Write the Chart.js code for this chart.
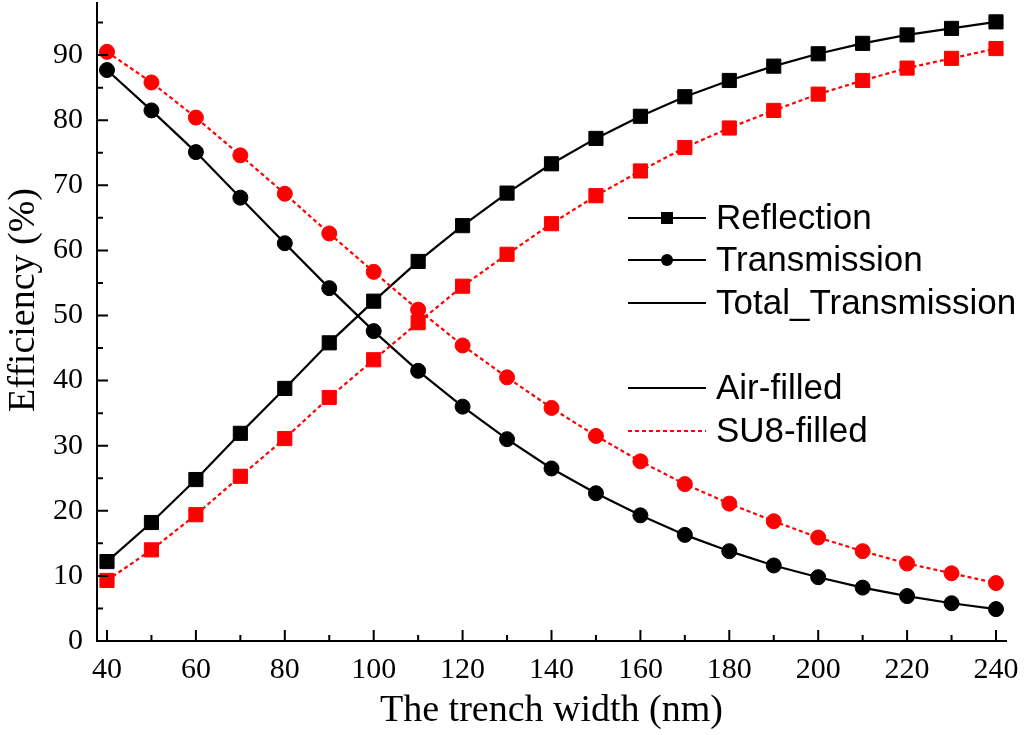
<!DOCTYPE html>
<html>
<head>
<meta charset="utf-8">
<script src="https://cdn.jsdelivr.net/npm/chart.js@4/dist/chart.umd.min.js"></script>
<style>
  html, body { margin: 0; padding: 0; background: #fff; }
  #wrap { width: 1024px; height: 735px; position: relative; }
</style>
</head>
<body>
<div id="wrap"><canvas id="chart"></canvas></div>
<script>
// trench width (nm)
const widths = [40, 50, 60, 70, 80, 90, 100, 110, 120, 130, 140, 150, 160, 170, 180, 190, 200, 210, 220, 230, 240];

// efficiency (%)
const airReflection = [12.2, 18.2, 24.8, 31.9, 38.8, 45.8, 52.2, 58.3, 63.8, 68.8, 73.3, 77.2, 80.6, 83.6, 86.1, 88.3, 90.2, 91.8, 93.1, 94.1, 95.1];
const airTransmission = [87.7, 81.5, 75.1, 68.1, 61.1, 54.2, 47.6, 41.5, 36.0, 31.0, 26.5, 22.7, 19.3, 16.3, 13.8, 11.6, 9.8, 8.2, 6.9, 5.8, 4.9];
const su8Reflection = [9.3, 14.0, 19.4, 25.3, 31.1, 37.4, 43.2, 48.9, 54.5, 59.4, 64.1, 68.4, 72.2, 75.8, 78.8, 81.5, 84.0, 86.1, 88.0, 89.5, 91.0];
const su8Transmission = [90.5, 85.8, 80.4, 74.6, 68.7, 62.6, 56.7, 50.9, 45.4, 40.5, 35.8, 31.5, 27.6, 24.1, 21.1, 18.4, 15.9, 13.8, 11.9, 10.4, 8.9];

const xTicks = [40, 60, 80, 100, 120, 140, 160, 180, 200, 220, 240];
const yTicks = [0, 10, 20, 30, 40, 50, 60, 70, 80, 90];

const yTitle = 'Efficiency (%)';
const xTitle = 'The trench width (nm)';

const legendRows = [
  { label: 'Reflection', color: '#000', dash: [], marker: 'rect' },
  { label: 'Transmission', color: '#000', dash: [], marker: 'circle' },
  { label: 'Total_Transmission', color: '#000', dash: [], marker: null },
  { label: 'Air-filled', color: '#000', dash: [], marker: null },
  { label: 'SU8-filled', color: '#ff0000', dash: [4, 3], marker: null }
];

const serif = '"Liberation Serif", "Times New Roman", serif';
const sans = '"Liberation Sans", Arial, sans-serif';

function toPoints(values) {
  return values.map((v, i) => ({ x: widths[i], y: v }));
}

function series(values, color, dash, style, radius) {
  return {
    data: toPoints(values),
    borderColor: color,
    backgroundColor: color,
    borderWidth: 2.2,
    borderDash: dash,
    tension: 0,
    clip: false,
    pointStyle: style,
    pointRadius: radius,
    pointHoverRadius: radius,
    pointBackgroundColor: color,
    pointBorderColor: color,
    pointBorderWidth: 1
  };
}

// inward ticks (major + minor) and the y title
const tickPlugin = {
  id: 'inwardTicks',
  afterDraw(chart) {
    const { ctx, scales: { x, y }, chartArea } = chart;
    ctx.save();
    ctx.strokeStyle = '#000';
    ctx.lineWidth = 2;
    ctx.beginPath();
    for (let v = 40; v <= 240; v += 10) {
      const px = x.getPixelForValue(v);
      const len = (v % 20 === 0) ? 11 : 6;
      ctx.moveTo(px, chartArea.bottom);
      ctx.lineTo(px, chartArea.bottom - len);
    }
    for (let v = 0; v <= 95; v += 5) {
      const py = y.getPixelForValue(v);
      const len = (v % 10 === 0) ? 11 : 6;
      ctx.moveTo(chartArea.left, py);
      ctx.lineTo(chartArea.left + len, py);
    }
    ctx.stroke();

    // y title sits a little above the middle in the original
    ctx.translate(24, 300);
    ctx.rotate(-Math.PI / 2);
    ctx.fillStyle = '#000';
    ctx.font = '38px ' + serif;
    ctx.textAlign = 'center';
    ctx.textBaseline = 'middle';
    ctx.fillText(yTitle, 0, 0);
    ctx.restore();
  }
};

// legend drawn by hand (the original has a gap between the two groups)
const legendPlugin = {
  id: 'handLegend',
  afterDraw(chart) {
    const { ctx } = chart;
    const rowsY = [218, 260, 303, 388, 431];
    ctx.save();
    legendRows.forEach((row, i) => {
      const yy = rowsY[i];
      ctx.strokeStyle = row.color;
      ctx.lineWidth = 2;
      ctx.setLineDash(row.dash);
      ctx.beginPath();
      ctx.moveTo(628, yy);
      ctx.lineTo(706, yy);
      ctx.stroke();
      ctx.setLineDash([]);
      ctx.fillStyle = row.color;
      if (row.marker === 'rect') {
        ctx.fillRect(661, yy - 6, 12, 12);
      } else if (row.marker === 'circle') {
        ctx.beginPath();
        ctx.arc(667, yy, 6, 0, Math.PI * 2);
        ctx.fill();
      }
      ctx.fillStyle = '#000';
      ctx.font = '35px ' + sans;
      ctx.textBaseline = 'middle';
      ctx.textAlign = 'left';
      ctx.fillText(row.label, 716, yy + 1);
    });
    ctx.restore();
  }
};

const ctx = document.getElementById('chart').getContext('2d');
new Chart(ctx, {
  type: 'line',
  data: {
    datasets: [
      series(su8Reflection, '#ff0000', [4, 3], 'rect', 10),
      series(su8Transmission, '#ff0000', [4, 3], 'circle', 7.5),
      series(airReflection, '#000000', [], 'rect', 10),
      series(airTransmission, '#000000', [], 'circle', 7.5)
    ]
  },
  options: {
    responsive: true,
    maintainAspectRatio: false,
    animation: false,
    layout: { autoPadding: false, padding: { top: 3, right: 18, left: 0, bottom: 0 } },
    plugins: {
      legend: { display: false },
      tooltip: { enabled: false }
    },
    scales: {
      x: {
        type: 'linear',
        min: 37.75,
        max: 242.25,
        afterBuildTicks: s => { s.ticks = xTicks.map(v => ({ value: v })); },
        afterFit: s => { s.height = 94; s.paddingLeft = 0; s.paddingRight = 0; },
        grid: { display: false, drawTicks: false },
        border: { display: true, color: '#000', width: 2 },
        ticks: {
          color: '#000',
          padding: 11,
          maxRotation: 0,
          font: { family: serif, size: 30 }
        },
        title: {
          display: true,
          text: xTitle,
          color: '#000',
          font: { family: serif, size: 38 },
          padding: { top: 0, bottom: 1 }
        }
      },
      y: {
        type: 'linear',
        min: 0,
        max: 98,
        afterBuildTicks: s => { s.ticks = yTicks.map(v => ({ value: v })); },
        afterFit: s => { s.width = 97; s.paddingTop = 0; s.paddingBottom = 0; },
        grid: { display: false, drawTicks: false },
        border: { display: true, color: '#000', width: 2 },
        ticks: {
          color: '#000',
          padding: 14,
          font: { family: serif, size: 30 }
        }
      }
    }
  },
  plugins: [tickPlugin, legendPlugin]
});
</script>
</body>
</html>
